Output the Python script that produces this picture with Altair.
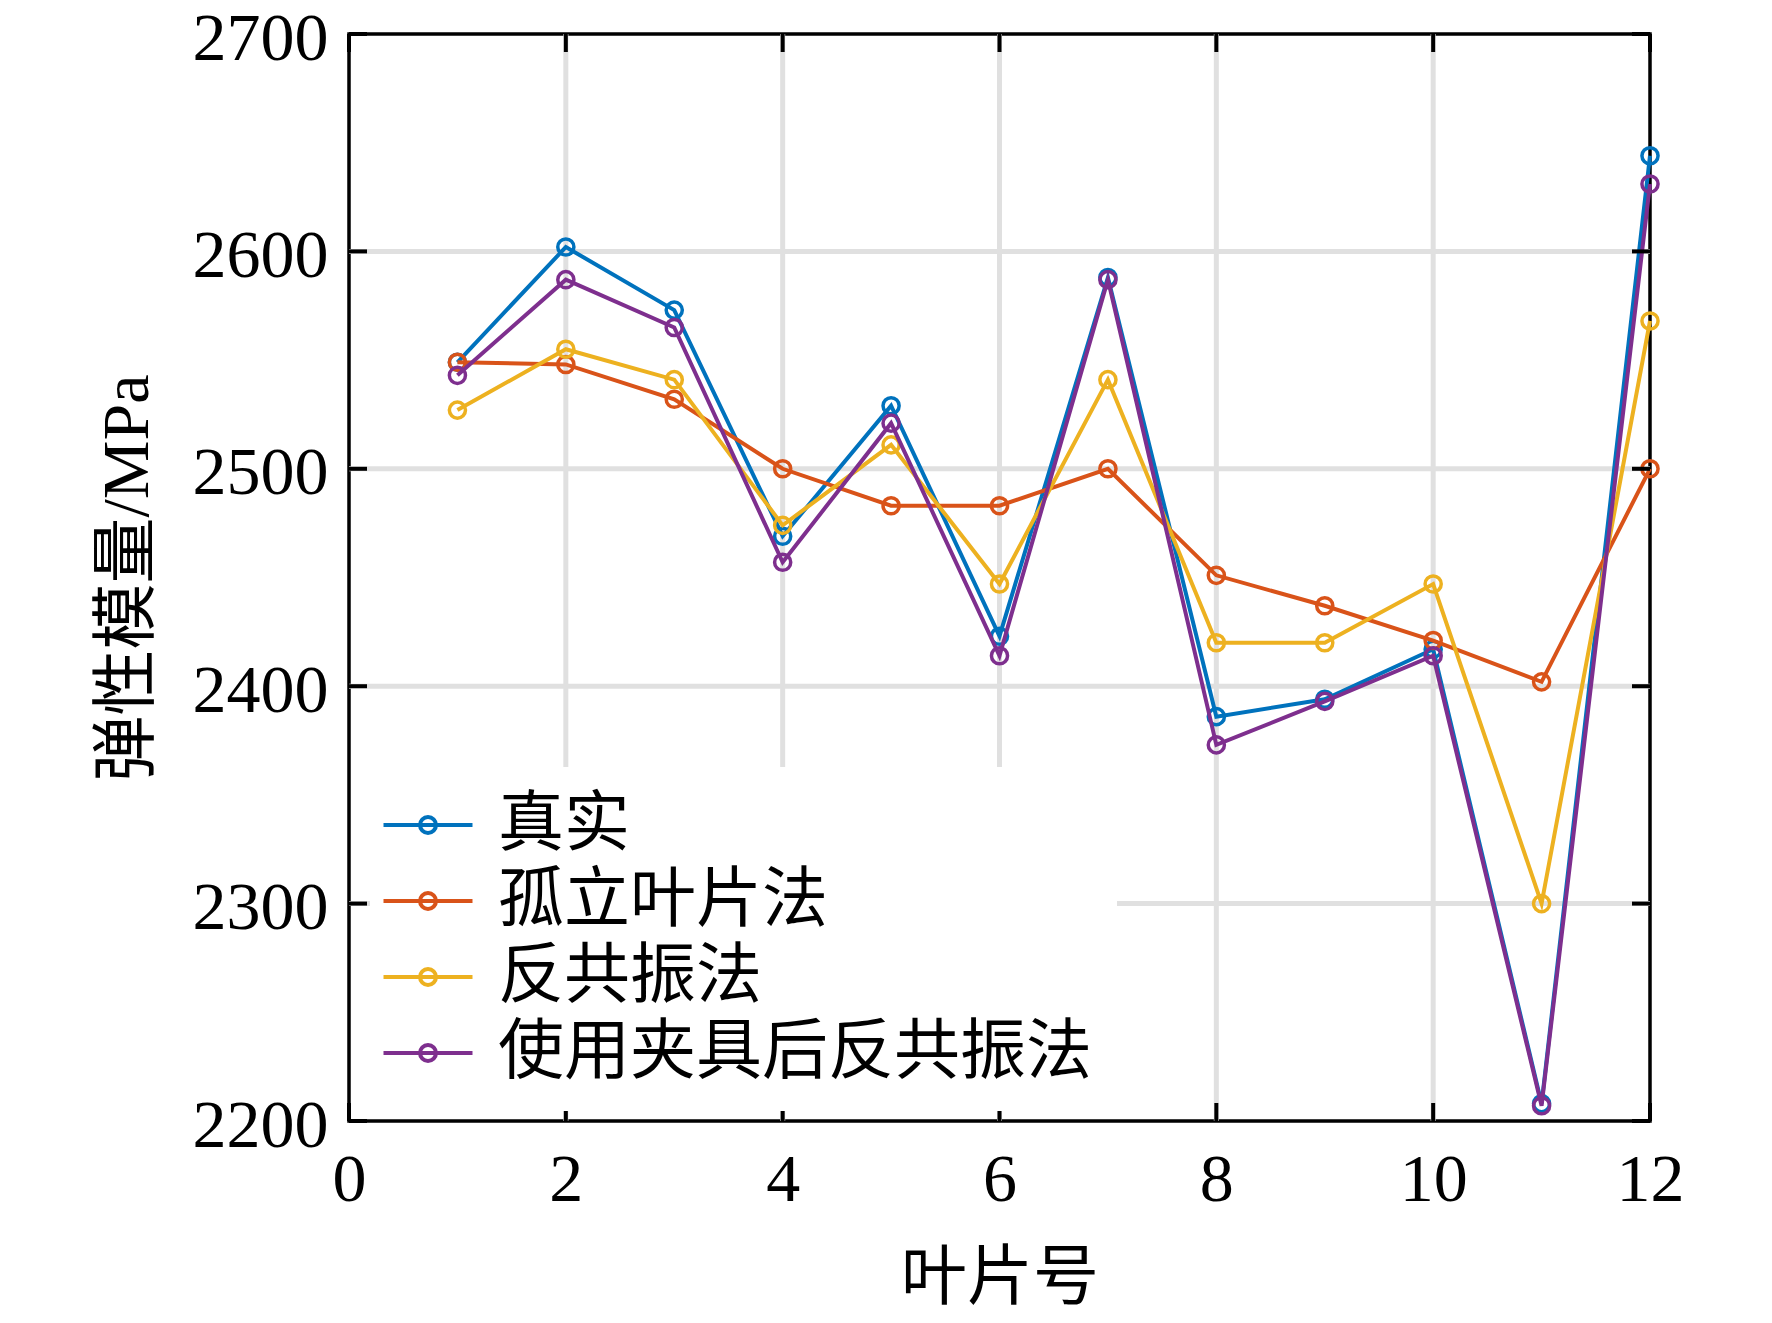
import altair as alt
import pandas as pd

# ---- data ----
blade = [1, 2, 3, 4, 5, 6, 7, 8, 9, 10, 11, 12]
series_names = ["真实", "孤立叶片法", "反共振法", "使用夹具后反共振法"]
e_true = [2549, 2602, 2573, 2469, 2529, 2423, 2588, 2386, 2394, 2417, 2208, 2644]
e_isolated = [2549, 2548, 2532, 2500, 2483, 2483, 2500, 2451, 2437, 2421, 2402, 2500]
e_antires = [2527, 2555, 2541, 2474, 2511, 2447, 2541, 2420, 2420, 2447, 2300, 2568]
e_fixture = [2543, 2587, 2565, 2457, 2521, 2414, 2587, 2373, 2393, 2414, 2207, 2631]
colors = ["#0072BD", "#D95319", "#EDB120", "#7E2F8E"]
x_ticks = [0, 2, 4, 6, 8, 10, 12]
y_ticks = [2200, 2300, 2400, 2500, 2600, 2700]

rows = []
for name, vals in zip(series_names, [e_true, e_isolated, e_antires, e_fixture]):
    for b, v in zip(blade, vals):
        rows.append({"blade": b, "E": v, "method": name})
df = pd.DataFrame(rows)
xt = pd.DataFrame({"v": x_ticks})
yt = pd.DataFrame({"v": y_ticks})

W, H = 1301, 1087
TL = 18
FONT = "Liberation Serif, Noto Sans CJK SC"

xscale = alt.Scale(domain=[0, 12], nice=False, zero=False)
yscale = alt.Scale(domain=[2200, 2700], nice=False, zero=False)
xaxis = alt.Axis(values=x_ticks, title="叶片号", grid=False, domain=False, ticks=False,
                 format="d", labelFont=FONT, labelFontSize=68, labelPadding=25,
                 labelColor="black", labelFlush=False, titleFont=FONT, titleFontSize=66,
                 titleFontWeight="normal", titleColor="black", titlePadding=32)
yaxis = alt.Axis(values=y_ticks, title="弹性模量/MPa", grid=False, domain=False, ticks=False,
                 format="d", labelFont=FONT, labelFontSize=68, labelPadding=21,
                 labelOffset=5, labelColor="black", labelFlush=False, titleFont=FONT,
                 titleFontSize=66, titleFontWeight="normal", titleColor="black",
                 titlePadding=31)

color_scale = alt.Scale(domain=series_names, range=colors)
SYM = "M-2,0L2,0M0.36,0A0.36,0.36,0,1,1,-0.36,0A0.36,0.36,0,1,1,0.36,0"
legend = alt.Legend(title=None, orient="none", legendX=21, legendY=733, fillColor="white",
                    padding=25, symbolType=SYM, symbolSize=1980, symbolStrokeWidth=4,
                    symbolFillColor="transparent", labelFont=FONT, labelFontSize=66,
                    labelColor="black", labelOffset=37, rowPadding=10, labelLimit=0)

X = alt.X("blade:Q", scale=xscale, axis=xaxis)
Y = alt.Y("E:Q", scale=yscale, axis=yaxis)
C = alt.Color("method:N", scale=color_scale, legend=legend)

grid_v = alt.Chart(xt).transform_filter("datum.v > 0 && datum.v < 12").mark_rule(
    color="#e0e0e0", strokeWidth=5).encode(x=alt.X("v:Q", scale=xscale, axis=xaxis))
grid_h = alt.Chart(yt).transform_filter("datum.v > 2200 && datum.v < 2700").mark_rule(
    color="#e0e0e0", strokeWidth=5).encode(y=alt.Y("v:Q", scale=yscale, axis=yaxis))

layers = [grid_v, grid_h]
for name in series_names:
    base = alt.Chart(df).transform_filter(alt.datum.method == name)
    layers.append(base.mark_line(strokeWidth=4).encode(x=X, y=Y, color=C))
    layers.append(base.mark_point(filled=False, size=260, strokeWidth=3.5, opacity=1,
                                  shape="circle").encode(x=X, y=Y, color=C))

tx = alt.X("v:Q", scale=xscale, axis=xaxis)
ty = alt.Y("v:Q", scale=yscale, axis=yaxis)
tick_bottom = alt.Chart(xt).mark_rule(color="black", strokeWidth=4).encode(
    x=tx, y=alt.value(H - TL), y2=alt.value(H))
tick_top = alt.Chart(xt).mark_rule(color="black", strokeWidth=4).encode(
    x=tx, y=alt.value(0), y2=alt.value(TL))
tick_left = alt.Chart(yt).mark_rule(color="black", strokeWidth=4).encode(
    y=ty, x=alt.value(0), x2=alt.value(TL))
tick_right = alt.Chart(yt).mark_rule(color="black", strokeWidth=4).encode(
    y=ty, x=alt.value(W - TL), x2=alt.value(W))
layers += [tick_bottom, tick_top, tick_left, tick_right]

chart = alt.layer(*layers).properties(
    width=W, height=H, autosize="none", background="white",
    padding={"left": 341, "top": 26, "right": 114, "bottom": 194},
).configure_view(stroke="black", strokeWidth=3.5)

chart.save("out.html", embed_options={"renderer": "svg", "actions": False})
